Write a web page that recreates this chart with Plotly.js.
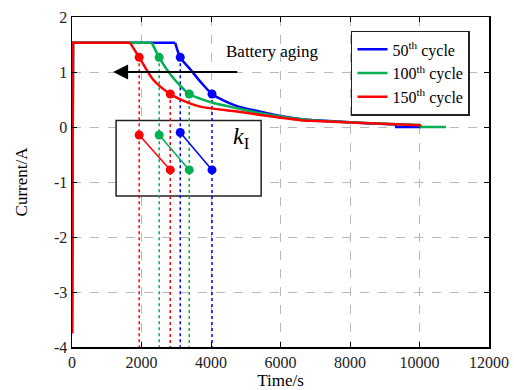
<!DOCTYPE html>
<html>
<head>
<meta charset="utf-8">
<script src="https://cdn.plot.ly/plotly-3.0.1.min.js"></script>
<style>
  html, body { margin: 0; padding: 0; background: #fff; }
  #chart { width: 514px; height: 390px; }
</style>
</head>
<body>
<div id="chart"></div>
<script>
// Charging current profiles (time in s, current in A)
const blueT  = [0, 30, 2970, 3115, 3403, 3700, 4029, 4400, 4750, 5423, 6000, 6577, 7000, 8000, 9000, 9310, 9330, 10040];
const blueI  = [-3.75, 1.53, 1.53, 1.267, 1.05, 0.82, 0.6, 0.47, 0.38, 0.28, 0.2, 0.145, 0.125, 0.085, 0.055, 0.05, 0.0, 0.0];

const greenT = [0, 30, 2298, 2509, 2827, 3100, 3375, 4000, 4750, 5423, 6000, 6577, 7000, 8000, 9000, 10038, 10045, 10760];
const greenI = [-3.75, 1.53, 1.53, 1.267, 0.958, 0.76, 0.6, 0.45, 0.34, 0.25, 0.19, 0.14, 0.12, 0.085, 0.06, 0.035, 0.0, 0.0];

const redT   = [0, 30, 1673, 1933, 2345, 2827, 3200, 3692, 4750, 5423, 6000, 6577, 7000, 8000, 9000, 10038];
const redI   = [-3.75, 1.53, 1.53, 1.267, 0.855, 0.6, 0.48, 0.37, 0.28, 0.22, 0.17, 0.125, 0.11, 0.08, 0.055, 0.03];

// Sampling points on each curve
const blueMarkT  = [3115, 4029];
const greenMarkT = [2509, 3375];
const redMarkT   = [1933, 2827];
const markI      = [1.267, 0.6];

// Slope points in the k_I inset
const blueInsetI  = [-0.1, -0.78];
const greenInsetI = [-0.145, -0.78];
const redInsetI   = [-0.145, -0.78];

const xTicks = [0, 2000, 4000, 6000, 8000, 10000, 12000];
const xTickText = ['0', '2000', '4000', '6000', '8000', '10000', '12000'];
const yTicks = [-4, -3, -2, -1, 0, 1, 2];
const yTickText = ['-4', '-3', '-2', '-1', '0', '1', '2'];

const seriesNames = ['50<sup>th</sup> cycle', '100<sup>th</sup> cycle', '150<sup>th</sup> cycle'];

const BLUE = '#0000ff', GREEN = '#00b050', RED = '#ff0000';
const FONT = 'Liberation Serif';
const YBOTTOM = -4;

const series = [
  {t: blueT,  i: blueI,  mt: blueMarkT,  inset: blueInsetI,  c: BLUE,  name: seriesNames[0]},
  {t: greenT, i: greenI, mt: greenMarkT, inset: greenInsetI, c: GREEN, name: seriesNames[1]},
  {t: redT,   i: redI,   mt: redMarkT,   inset: redInsetI,   c: RED,   name: seriesNames[2]}
];

const traces = [];
// dotted drop lines from each sampling point down to the axis
series.forEach(s => {
  s.mt.forEach((t, k) => {
    traces.push({
      x: [t, t], y: [markI[k], YBOTTOM], mode: 'lines',
      line: {color: s.c, width: 1.5, dash: 'dot'},
      showlegend: false, hoverinfo: 'skip'
    });
  });
});
// main current curves: step-up / constant-current part and end of charge drawn
// straight, constant-voltage decay drawn smoothed
series.forEach(s => {
  const n = s.t.length;
  traces.push({
    x: s.t.slice(0, 3), y: s.i.slice(0, 3), mode: 'lines',
    line: {color: s.c, width: 2.5}, showlegend: false
  });
  traces.push({
    x: s.t.slice(n - 3), y: s.i.slice(n - 3), mode: 'lines',
    line: {color: s.c, width: 2.5}, showlegend: false
  });
  traces.push({
    x: s.t.slice(2, n - 2), y: s.i.slice(2, n - 2), mode: 'lines', name: s.name,
    line: {color: s.c, width: 2.5, shape: 'spline', smoothing: 0.8}
  });
});
// markers on the curves
series.forEach(s => {
  traces.push({
    x: s.mt, y: markI, mode: 'markers',
    marker: {color: s.c, size: 9},
    showlegend: false
  });
});
// slope segments inside the inset
series.forEach(s => {
  traces.push({
    x: s.mt, y: s.inset, mode: 'lines+markers',
    line: {color: s.c, width: 1.5},
    marker: {color: s.c, size: 9},
    showlegend: false
  });
});

const axisCommon = {
  showline: true, linecolor: '#000', linewidth: 1.5, mirror: 'allticks',
  ticks: 'inside', ticklen: 5, tickcolor: '#000', tickwidth: 1,
  showgrid: true, gridcolor: '#b8b8b8', gridwidth: 1, griddash: 'dash',
  zeroline: false,
  tickfont: {family: FONT, size: 16, color: '#222'}
};

const layout = {
  width: 514, height: 390,
  margin: {l: 72, r: 25, t: 17, b: 43},
  paper_bgcolor: '#fff', plot_bgcolor: '#fff',
  font: {family: FONT, color: '#000'},
  xaxis: Object.assign({}, axisCommon, {
    range: [0, 12000], tickvals: xTicks, ticktext: xTickText,
    title: {text: 'Time/s', font: {family: FONT, size: 17}, standoff: 2}
  }),
  yaxis: Object.assign({}, axisCommon, {
    range: [-4, 2], tickvals: yTicks, ticktext: yTickText,
    title: {text: 'Current/A', font: {family: FONT, size: 17}, standoff: 22}
  }),
  legend: {
    x: 0.669, y: 0.958, xanchor: 'left', yanchor: 'top',
    bgcolor: '#fff', bordercolor: '#222', borderwidth: 1.5,
    font: {family: FONT, size: 16, color: '#000'},
    traceorder: 'normal', tracegroupgap: 0, itemwidth: 30
  },
  shapes: [{
    type: 'rect', xref: 'x', yref: 'y',
    x0: 1269, x1: 5443, y0: -1.255, y1: 0.12,
    line: {color: '#222', width: 1.5}, fillcolor: '#fff', layer: 'between'
  }],
  annotations: [
    {
      x: 1183, y: 1, ax: 4797, ay: 1, xref: 'x', yref: 'y', axref: 'x', ayref: 'y',
      showarrow: true, arrowhead: 2, arrowsize: 1.5, arrowwidth: 2, arrowcolor: '#000', text: ''
    },
    {
      x: 5760, y: 1.38, xref: 'x', yref: 'y', showarrow: false,
      text: 'Battery aging', font: {family: FONT, size: 17, color: '#000'}
    },
    {
      x: 4875, y: -0.2, xref: 'x', yref: 'y', showarrow: false,
      text: '<i>k</i><sub>I</sub>', font: {family: FONT, size: 24, color: '#000'}
    }
  ]
};

Plotly.newPlot('chart', traces, layout, {displayModeBar: false, staticPlot: true});
</script>
</body>
</html>
